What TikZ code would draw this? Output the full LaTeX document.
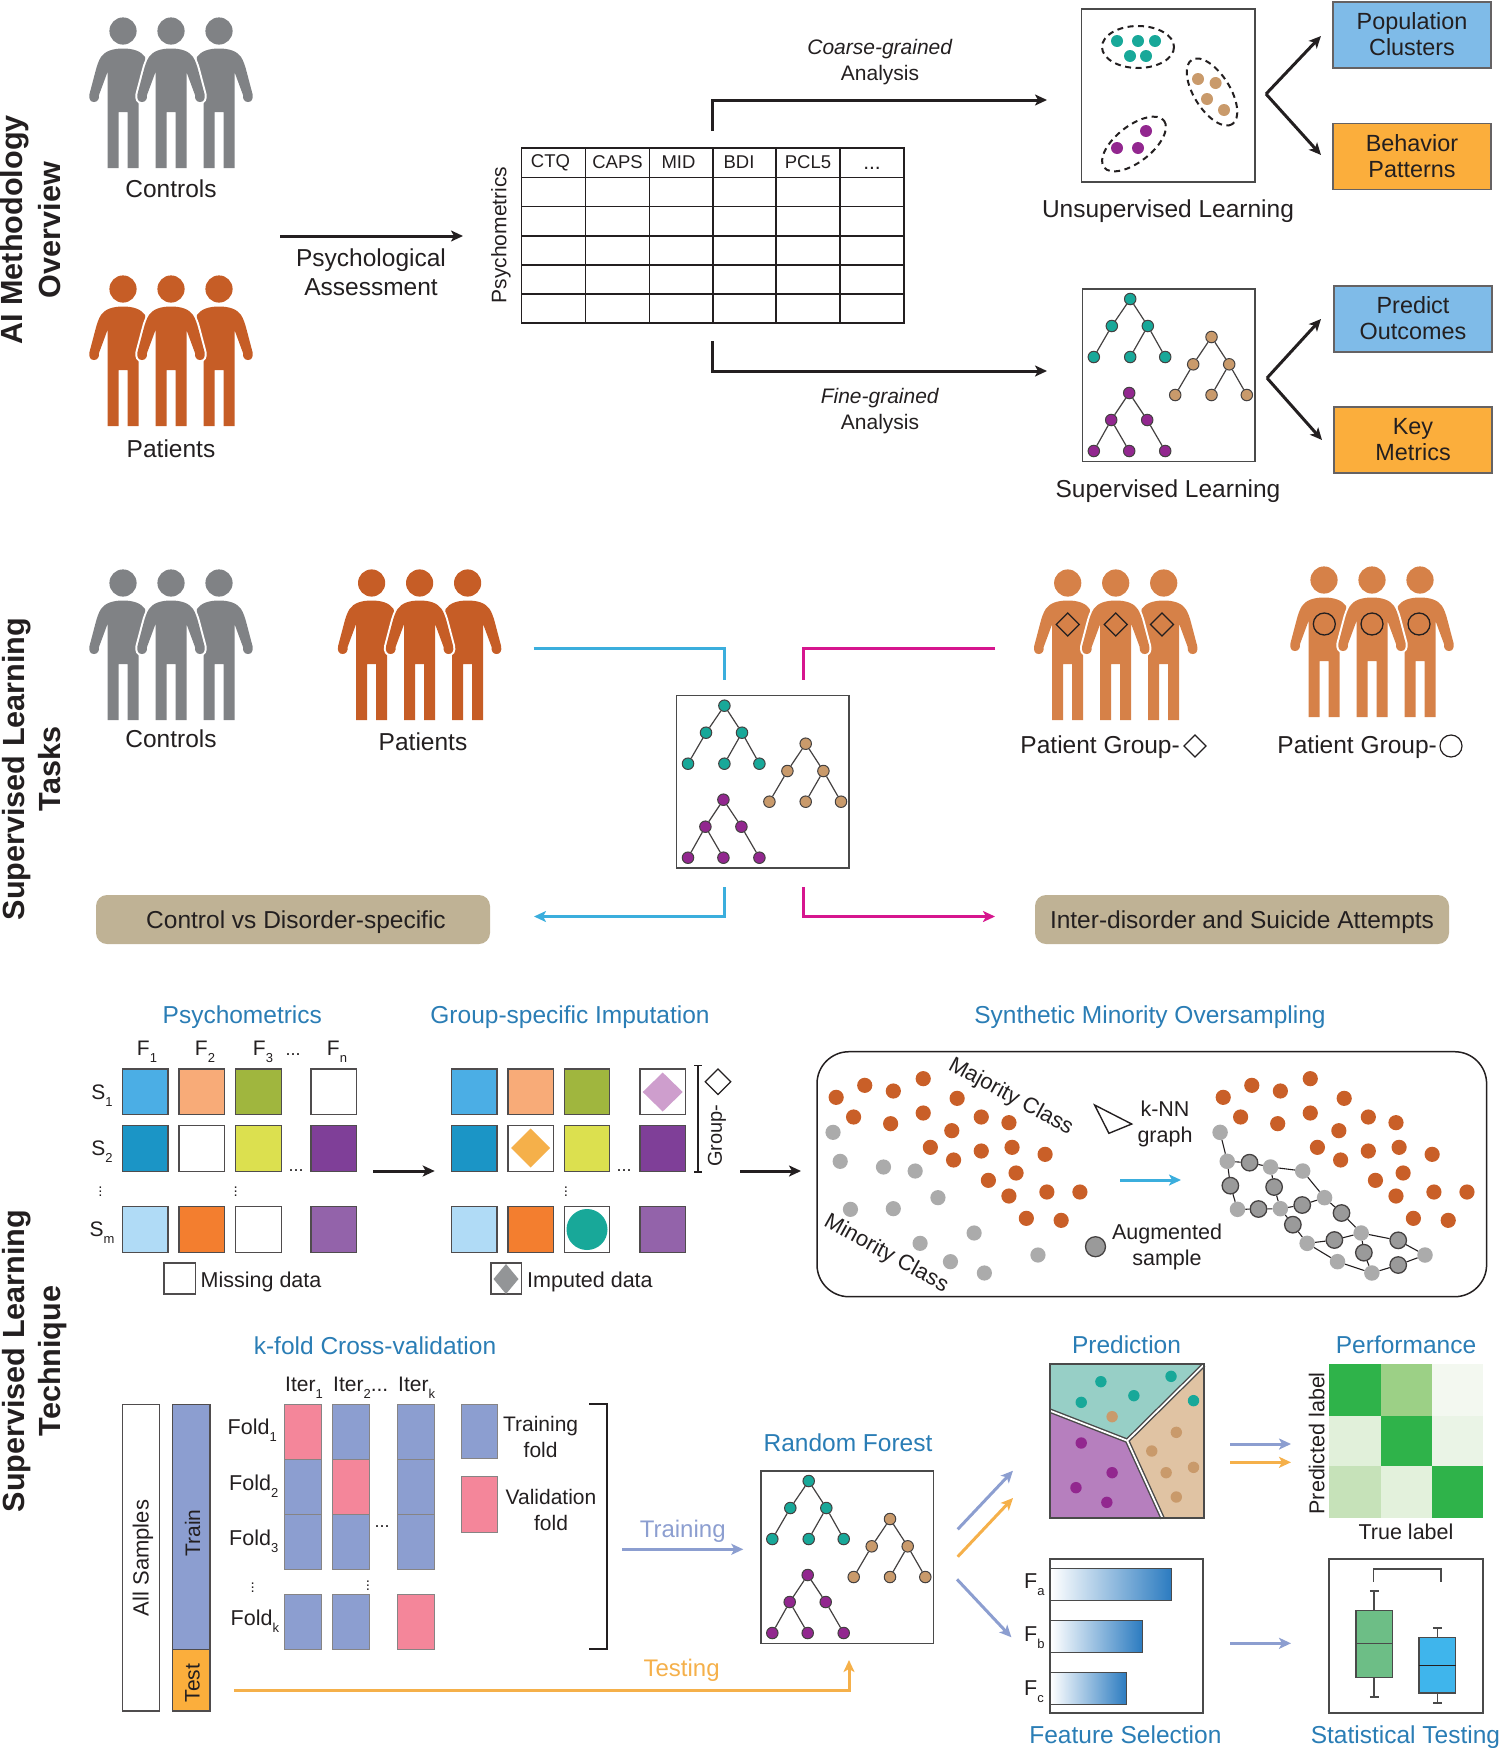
\documentclass[tikz,border=0pt]{standalone}
\usepackage{fontspec}
\setmainfont{Liberation Sans}
\usetikzlibrary{arrows.meta}
\definecolor{ink}{HTML}{231F20}
\definecolor{frameC}{HTML}{4A4A4A}
\definecolor{headC}{HTML}{2A7DB5}
\definecolor{barC}{HTML}{2B7BC0}
\definecolor{pGray}{HTML}{808285}
\definecolor{pOrange}{HTML}{C65D26}
\definecolor{pLight}{HTML}{D68148}
\definecolor{boxBlue}{HTML}{7FBBE8}
\definecolor{boxOrange}{HTML}{FBAE3C}
\definecolor{boxTan}{HTML}{BFB295}
\definecolor{cTeal}{HTML}{18A899}
\definecolor{cTan}{HTML}{C99A6B}
\definecolor{cPurple}{HTML}{92278F}
\definecolor{cCyan}{HTML}{3BAEDD}
\definecolor{cMag}{HTML}{D6168E}
\definecolor{cFold}{HTML}{8C9ED0}
\definecolor{cPink}{HTML}{F4869A}
\definecolor{cTest}{HTML}{F5B04A}
\definecolor{cA}{HTML}{4BAEE5}\definecolor{cB}{HTML}{F8AB78}\definecolor{cC}{HTML}{A0B63E}
\definecolor{cD}{HTML}{1B95C6}\definecolor{cE}{HTML}{DCE04F}\definecolor{cF}{HTML}{7F3F98}
\definecolor{cG}{HTML}{B0DBF6}\definecolor{cH}{HTML}{F37E2F}\definecolor{cI}{HTML}{9363AA}
\definecolor{dotOr}{HTML}{C95F28}
\definecolor{dotGr}{HTML}{ABABAB}
\definecolor{regTeal}{HTML}{97CFC6}
\definecolor{regPur}{HTML}{B67FBE}
\definecolor{regTan}{HTML}{E0C3A3}
\definecolor{boxGreen}{HTML}{6DBE86}
\definecolor{boxCyan}{HTML}{3FB5EC}
\definecolor{h1}{HTML}{2FB34A}\definecolor{h2}{HTML}{9CD086}\definecolor{h3}{HTML}{F3F8F0}
\definecolor{h4}{HTML}{E1F0DA}\definecolor{h5}{HTML}{EAF4E6}\definecolor{h6}{HTML}{C6E2B9}\definecolor{h7}{HTML}{E3F1DC}
\newcommand\fs[2]{\fontsize{#1}{#2}\selectfont}
\newcommand\sbs[1]{\raisebox{-7pt}{\fontsize{13}{13}\selectfont #1}}
\newcommand\sidepath{(0,17.5) .. controls (-10,17.5) and (-18,20) .. (-22,26) .. controls (-24,29) and (-26,34) .. (-27.7,41) -- (-33.5,63) .. controls (-34.5,68) and (-32.5,71) .. (-29,71) .. controls (-25.5,71) and (-23.5,68) .. (-24,64) -- (-15.5,41) -- (-15.5,137) -- (-4.5,137) -- (-4.5,81) -- (4.5,81) -- (4.5,137) -- (15.5,137)}
\newcommand\midpath{\sidepath -- (15.5,41) -- (24,64) .. controls (23.5,68) and (25.5,71) .. (29,71) .. controls (32.5,71) and (34.5,68) .. (33.5,63) -- (27.7,41) .. controls (26,34) and (24,29) .. (22,26) .. controls (18,20) and (10,17.5) .. (0,17.5) -- cycle}
\newcommand\people[3]{%
  \begin{scope}[shift={(#1,#2)}]
    \begin{scope}[shift={(-48,0)}]
      \fill[#3] (0,0) circle (13.6);
      \fill[#3] \sidepath -- (15.5,72) -- (24,40) -- (22,26) .. controls (18,20) and (10,17.5) .. (0,17.5) -- cycle;
    \end{scope}
    \begin{scope}[shift={(48,0)},xscale=-1]
      \fill[#3] (0,0) circle (13.6);
      \fill[#3] \sidepath -- (15.5,72) -- (24,40) -- (22,26) .. controls (18,20) and (10,17.5) .. (0,17.5) -- cycle;
    \end{scope}
    \fill[#3] (0,0) circle (13.6);
    \draw[white,line width=4pt] \midpath;
    \fill[#3] \midpath;
  \end{scope}}
\newcommand\dia[5][ink]{\draw[#1,line width=#5] (#2-#4,#3) -- (#2,#3-#4) -- (#2+#4,#3) -- (#2,#3+#4) -- cycle;}
\newcommand\treeicon[3]{%
  \begin{scope}[shift={(#1,#2)}]
    \draw[boxframe] (0,0) rectangle (172.5,172.5);
    \foreach \nm/\xx/\yy/\cc in {a/47.7/10/cTeal,b/29.3/37/cTeal,c/65.3/37/cTeal,d/11.3/68/cTeal,e/47.7/68/cTeal,f/82.7/68/cTeal,
      g/129/48/cTan,h/110.7/75.3/cTan,i/146.7/75.3/cTan,j/92.7/106/cTan,k/129/106/cTan,l/164.3/106/cTan,
      m/46.7/104/cPurple,n/28.7/131/cPurple,o/64.7/131/cPurple,p/11.3/162/cPurple,q/46.7/162/cPurple,r/82.7/162/cPurple}
      {\node[treenode,fill=\cc] (#3\nm) at (\xx,\yy) {};}
    \foreach \ua/\va in {a/b,a/c,b/d,c/e,c/f,g/h,g/i,h/j,i/k,i/l,m/n,m/o,n/p,n/q,o/r}
      {\draw[treeedge] (#3\ua) -- (#3\va);}
  \end{scope}}
\tikzset{
  txt/.style={inner sep=0pt,text=ink,align=center,font=\fs{24.5}{29}},
  small/.style={inner sep=0pt,text=ink,align=center,font=\fs{21.5}{26}},
  head/.style={inner sep=0pt,text=headC,align=center,font=\fs{24.5}{29}},
  title/.style={inner sep=0pt,text=ink,anchor=base,rotate=90,font=\fs{30.6}{36}\bfseries},
  boxframe/.style={draw=frameC,line width=1.5pt},
  treenode/.style={circle,draw=ink!85,line width=1pt,inner sep=0pt,minimum size=11.5pt},
  treeedge/.style={draw=ink!85,line width=1.2pt},
  tagbox/.style={draw=ink!70,line width=1.1pt,inner sep=0pt,text=ink,align=center,minimum width=158pt,minimum height=66pt,font=\fs{23.4}{26}},
  tanbox/.style={fill=boxTan,rounded corners=11pt,inner sep=0pt,text=ink,minimum height=49pt,text height=20pt,text depth=2pt,font=\fs{24.5}{29}},
  cell/.style={draw=ink!80,line width=1.2pt},
  fold/.style={draw=ink!55,line width=1pt},
  blackarrow/.style={draw=ink,line width=3pt,-{Stealth[length=12pt,width=11pt,inset=3pt]}},
  thinline/.style={draw=ink,line width=1.5pt},
  colarrow/.style={line width=3pt,-{Stealth[length=12pt,width=11pt,inset=3pt]}},
  colline/.style={line width=3pt},
  aug/.style={circle,draw=ink!85,fill=dotGr!90!black,line width=1.3pt,inner sep=0pt,minimum size=16.5pt},
  plain/.style={circle,fill=dotGr,inner sep=0pt,minimum size=15.5pt},
  graphedge/.style={draw=ink,line width=1.1pt},
  dashedring/.style={ink,line width=2pt,dash pattern=on 6pt off 4.5pt},
}
\begin{document}
\begin{tikzpicture}[x=1pt,y=-1pt]
\useasboundingbox (0,0) rectangle (1500,1748);
% ---------- titles
\node[title] (t1a) at (23,230) {AI Methodology};
\node[title] (t1b) at (60,230) {Overview};
\node[title] (t2a) at (24,769) {Supervised Learning};
\node[title] (t2b) at (60,769) {Tasks};
\node[title] (t3a) at (24,1361) {Supervised Learning};
\node[title] (t3b) at (60,1361) {Technique};
% ---------- people
\people{171}{31}{pGray}
\people{171}{289}{pOrange}
\people{171}{583}{pGray}
\people{419.6}{583}{pOrange}
\people{1115.7}{583}{pLight}
\people{1372}{580}{pLight}
\node[txt] (lc1) at (171,189) {Controls};
\node[txt] (lp1) at (171,449) {Patients};
\node[txt] (lc2) at (171,739) {Controls};
\node[txt] (lp2) at (423,742) {Patients};
\node[txt,anchor=east] (lg1) at (1180,747) {Patient Group-};
\node[txt,anchor=east] (lg2) at (1437,747) {Patient Group-};
\dia[ink]{1195}{746}{11}{1.2pt}
\draw[ink,line width=1.2pt] (1451,746) circle (11);
\foreach \xx in {1067.7,1115.7,1162}{\dia[ink]{\xx}{624.5}{11.5}{1.3pt}}
\foreach \xx in {1324.3,1372,1419}{\draw[ink,line width=1.3pt] (\xx,624) circle (11);}
% ---------- table
\coordinate (aS) at (280,236); \coordinate (aE) at (463,236);
\draw[blackarrow] (aS) -- (aE);
\node[txt] (psy) at (371,272.5) {Psychological\\Assessment};
\node[inner sep=0pt,text=ink,rotate=90,font=\fs{21}{25}] (psyv) at (501,235) {Psychometrics};
\node[draw=ink,line width=1.2pt,minimum width=382.5pt,minimum height=175pt,inner sep=0pt] (tbl) at (712.75,235.5) {};
\foreach \yy in {177.5,206.5,236,265,294}{\draw[ink,line width=1.2pt] (521.5,\yy) -- (904,\yy);}
\foreach \xx in {585.7,649.7,713,776,840}{\draw[ink,line width=1.2pt] (\xx,148) -- (\xx,323);}
\foreach \nm/\xx/\lab in {h1/550.5/CTQ,h2/617.5/CAPS,h3/678.5/MID,h4/739/BDI,h5/808/PCL5}
  {\node[inner sep=0pt,text=ink,font=\fs{18.5}{22}] (\nm) at (\xx,162.5) {\lab};}
\node[inner sep=0pt,text=ink,font=\fs{21}{25},anchor=base] (h6) at (872,169) {...};
\coordinate (up0) at (712,131); \coordinate (up1) at (712,100); \coordinate (up2) at (1047,100);
\draw[blackarrow] (up0) -- (up1) -- (up2);
\coordinate (dn0) at (712,341); \coordinate (dn1) at (712,371); \coordinate (dn2) at (1047,371);
\draw[blackarrow] (dn0) -- (dn1) -- (dn2);
\node[inner sep=0pt,text=ink,align=center,font=\fs{21}{26}] (coarse) at (880,62) {\textit{Coarse-grained}\\Analysis};
\node[inner sep=0pt,text=ink,align=center,font=\fs{21}{26}] (fine) at (880,411.5) {\textit{Fine-grained}\\Analysis};
% ---------- unsupervised frame
\draw[boxframe] (1081.6,9) rectangle (1255,182);
\foreach \X/\Y in {1117/41,1138/41,1155/41,1130/56,1146/56}{\fill[cTeal] (\X,\Y) circle (6);}
\foreach \X/\Y in {1198/79,1215.6/83,1207/99,1224/110}{\fill[cTan] (\X,\Y) circle (6);}
\foreach \X/\Y in {1146/131,1117/148,1138/148}{\fill[cPurple] (\X,\Y) circle (6);}
\draw[dashedring] (1138,47) ellipse [x radius=36,y radius=21];
\draw[dashedring,rotate around={-58:(1212,92)}] (1212,92) ellipse [x radius=38,y radius=18];
\draw[dashedring,rotate around={38:(1134,144)}] (1134,144) ellipse [x radius=38,y radius=18];
\node[txt] (lu) at (1168,211) {Unsupervised Learning};
\treeicon{1082.5}{289}{s}
\node[txt] (ls) at (1168,491) {Supervised Learning};
% ---------- tag boxes
\node[tagbox,fill=boxBlue] (b1) at (1412,35) {\raisebox{2pt}{Population}\\\raisebox{2pt}{Clusters}};
\node[tagbox,fill=boxOrange] (b2) at (1412,156.5) {\raisebox{1pt}{Behavior}\\\raisebox{1pt}{Patterns}};
\node[tagbox,fill=boxBlue] (b3) at (1413,319) {\raisebox{1pt}{Predict}\\\raisebox{1pt}{Outcomes}};
\node[tagbox,fill=boxOrange] (b4) at (1413,440) {Key\\Metrics};
\coordinate (v1) at (1266,94); \coordinate (v1a) at (1321,36); \coordinate (v1b) at (1321,155);
\draw[blackarrow] (v1) -- (v1a); \draw[blackarrow] (v1) -- (v1b);
\coordinate (v2) at (1267,378); \coordinate (v2a) at (1321,319); \coordinate (v2b) at (1322,440);
\draw[blackarrow] (v2) -- (v2a); \draw[blackarrow] (v2) -- (v2b);
% ---------- supervised tasks
\treeicon{676.7}{695.7}{m}
\coordinate (c0) at (533.5,648.7); \coordinate (c1) at (724,648.7); \coordinate (c2) at (724,680);
\draw[cCyan,colline] (c0) -- (c1) -- (c2);
\coordinate (g0) at (995,648.7); \coordinate (g1) at (803.5,648.7); \coordinate (g2) at (803.5,680);
\draw[cMag,colline] (g0) -- (g1) -- (g2);
\coordinate (c3) at (724,887); \coordinate (c4) at (724,916.5); \coordinate (c5) at (534,916.5);
\draw[cCyan,colarrow] (c3) -- (c4) -- (c5);
\coordinate (g3) at (803.5,887); \coordinate (g4) at (803.5,916.5); \coordinate (g5) at (995,916.5);
\draw[cMag,colarrow] (g3) -- (g4) -- (g5);
\node[tanbox,minimum width=394pt] (tb1) at (293,919.5) {\hspace*{6pt}Control vs Disorder-specific};
\node[tanbox,minimum width=414pt] (tb2) at (1242,919.5) {Inter-disorder and Suicide Attempts};
% ---------- psychometrics matrix
\node[head] (hp) at (242.3,1017) {Psychometrics};
\node[head] (hg) at (570,1017) {Group-specific Imputation};
\node[head] (hs) at (1150,1017) {Synthetic Minority Oversampling};
\foreach \xx/\cc in {122.4/cA,179/cB,235.7/cC,311/white,451.5/cA,508/cB,564.3/cC,640/white}
  {\draw[cell,fill=\cc] (\xx,1069) rectangle ++(45.5,45.7);}
\foreach \xx/\cc in {122.4/cD,179/white,235.7/cE,311/cF,451.5/cD,508/white,564.3/cE,640/cF}
  {\draw[cell,fill=\cc] (\xx,1125.7) rectangle ++(45.5,45.5);}
\foreach \xx/\cc in {122.4/cG,179/cH,235.7/white,311/cI,451.5/cG,508/cH,564.3/white,640/cI}
  {\draw[cell,fill=\cc] (\xx,1206.7) rectangle ++(45.5,45.6);}
\fill[cPurple!45!white] (662.7,1072.5) -- (682.7,1092) -- (662.7,1111.5) -- (642.7,1092) -- cycle;
\fill[cTest] (530.7,1128.5) -- (550.2,1148) -- (530.7,1167.5) -- (511.2,1148) -- cycle;
\fill[cTeal] (587,1229.5) circle (20.5);
\foreach \nm/\xx/\sbx in {f1/147/1,f2/205/2,f3/263/3,f4/337/n}
  {\node[inner sep=0pt,text=ink,font=\fs{21}{25}] (\nm) at (\xx,1052) {F\sbs{\sbx}};}
\node[inner sep=0pt,text=ink,font=\fs{18}{22},anchor=base] (fd) at (293,1055) {...};
\foreach \nm/\yy/\sbx in {s1/1095.5/1,s2/1151.5/2,s3/1233/m}
  {\node[inner sep=0pt,text=ink,font=\fs{21}{25}] (\nm) at (102,\yy) {S\sbs{\sbx}};}
\foreach \nm/\xx in {vd1/100.5,vd2/235.7,vd3/566}
  {\node[inner sep=0pt,text=ink,font=\fs{15}{18}] (\nm) at (\xx,1189) {$\vdots$};}
\node[inner sep=0pt,text=ink,font=\fs{18}{22},anchor=base] (dd1) at (296,1171) {...};
\node[inner sep=0pt,text=ink,font=\fs{18}{22},anchor=base] (dd2) at (624,1171) {...};
\draw[cell] (164,1263) rectangle (195.4,1294);
\node[small,anchor=west] (lm) at (200.5,1282) {Missing data};
\draw[cell] (491,1263) rectangle (521.5,1294);
\fill[pGray!85] (506,1264) -- (518.5,1279) -- (506,1294) -- (493.5,1279) -- cycle;
\node[small,anchor=west] (li) at (527,1282) {Imputed data};
\draw[thinline] (694,1065.7) -- (702,1065.7) (698,1065.7) -- (698,1172) (694,1172) -- (702,1172);
\node[inner sep=0pt,text=ink,rotate=90,font=\fs{20}{24}] (lgr) at (717,1135.5) {Group-};
\dia[ink]{718}{1081.7}{12.7}{1.2pt}
\coordinate (x1) at (373,1171); \coordinate (x2) at (434.7,1171);
\draw[blackarrow] (x1) -- (x2);
\coordinate (x3) at (740,1171); \coordinate (x4) at (801,1171);
\draw[blackarrow] (x3) -- (x4);
% ---------- SMOTE
\draw[ink,line width=1.5pt,rounded corners=32pt] (817,1051.7) rectangle (1486.6,1296.7);
\foreach \X/\Y in {81/232,145/196,209/213,276/176,352/235,120/291,203/311,276/279,406/291,468/308,340/332,292/382,344/420,406/393,475/382,549/403,484/459,422/481,468/528,553/516,627/516,507/595,585/601,
 948/232,1012/196,1076/213,1143/176,1219/235,987/291,1070/311,1143/279,1273/291,1335/308,1207/332,1159/382,1211/420,1273/393,1342/382,1416/403,1351/459,1289/481,1335/528,1420/516,1494/516,1374/595,1452/601}
  {\fill[dotOr] ({800+\X/2.24},{1020+\Y/3}) circle (7.6);}
\foreach \X/\Y in {74/337,90/424,187/441,258/453,309/533,113/568,209/566,390/639,269/670,337/725,533/705,413/759}
  {\fill[dotGr] ({800+\X/2.24},{1020+\Y/3}) circle (7.6);}
\foreach \nm/\X/\Y in {p1/941/337,p2/957/424,p3/1054/441,p4/1126/453,p5/1175/533,p6/980/568,p7/1076/566,p8/1257/639,p9/1136/670,p10/1204/725,p11/1400/705,p12/1281/759}
  {\node[plain] (\nm) at ({800+\X/2.24},{1020+\Y/3}) {};}
\foreach \nm/\X/\Y in {a1/1007/428,a2/964/497,a3/1062/501,a4/1027/567,a5/1125/555,a6/1213/579,a7/1104/614,a8/1197/660,a9/1263/698,a10/1340/661,a11/1340/735}
  {\node[aug] (\nm) at ({800+\X/2.24},{1020+\Y/3}) {};}
\foreach \ua/\va in {p1/p2,p2/a1,a1/p3,p3/p4,p4/p5,p5/a6,a6/p8,p8/a10,a10/p11,p11/a11,a11/p12,p12/p10,p10/p9,p9/a8,a8/p8,p8/a9,a9/p12,p2/a2,a2/p6,p6/a4,a4/p7,p7/a5,a5/p5,p3/a3,a3/p7,p7/a7,a7/p9}
  {\draw[graphedge] (\ua) -- (\va);}
\node[inner sep=0pt,text=ink,rotate=-28.5,font=\fs{22}{26}] (maj) at (1010.7,1097) {Majority Class};
\node[inner sep=0pt,text=ink,rotate=-29,font=\fs{22}{26}] (mnr) at (886,1254) {Minority Class};
\draw[ink,line width=1.4pt] (1094.6,1105) -- (1131.7,1124) -- (1108.9,1133.3) -- cycle;
\node[small] (knn) at (1165,1123.5) {k-NN\\graph};
\coordinate (b0) at (1120,1180); \coordinate (b9) at (1181,1180);
\draw[cCyan,colarrow] (b0) -- (b9);
\node[aug,minimum size=20pt] (augl) at (1095.5,1246.7) {};
\node[small] (laug) at (1167,1246.5) {Augmented\\sample};
% ---------- cross validation
\node[head] (hk) at (375,1346) {k-fold Cross-validation};
\draw[cell,fill=white] (122.8,1404.3) rectangle (159.6,1711);
\node[inner sep=0pt,text=ink,rotate=90,font=\fs{22}{26}] (las) at (143,1558) {All Samples};
\draw[cell,fill=cFold] (172.6,1404.3) rectangle (210,1649.3);
\draw[cell,fill=boxOrange] (172.6,1649.3) rectangle (210,1711);
\node[inner sep=0pt,text=ink,rotate=90,font=\fs{21}{25}] (ltr) at (192.5,1533) {Train};
\node[inner sep=0pt,text=ink,rotate=90,font=\fs{21}{25}] (lte) at (192.5,1683) {Test};
\foreach \xx/\ca/\cb/\cc/\ck in {284.3/cPink/cFold/cFold/cFold,332.5/cFold/cPink/cFold/cFold,397/cFold/cFold/cFold/cPink}{
  \draw[fold,fill=\ca] (\xx,1404) rectangle ++(37,55);
  \draw[fold,fill=\cb] (\xx,1459) rectangle ++(37,55);
  \draw[fold,fill=\cc] (\xx,1514) rectangle ++(37,55.3);
  \draw[fold,fill=\ck] (\xx,1594.7) rectangle ++(37,55);
}
\node[small,anchor=west,font=\fs{21}{25}] (it1) at (285,1388) {Iter\sbs{1}};
\node[small,anchor=west,font=\fs{21}{25}] (it2) at (333,1388) {Iter\sbs{2}...};
\node[small,anchor=west,font=\fs{21}{25}] (it3) at (398,1388) {Iter\sbs{k}};
\node[small,anchor=west,font=\fs{21.5}{25}] (fo1) at (227.5,1430.5) {Fold\sbs{1}};
\node[small,anchor=west,font=\fs{21.5}{25}] (fo2) at (229,1486) {Fold\sbs{2}};
\node[small,anchor=west,font=\fs{21.5}{25}] (fo3) at (229,1541) {Fold\sbs{3}};
\node[small,anchor=west,font=\fs{21.5}{25}] (fo4) at (230.5,1621.5) {Fold\sbs{k}};
\node[inner sep=0pt,text=ink,font=\fs{15}{18}] (vd4) at (252.8,1585) {$\vdots$};
\node[inner sep=0pt,text=ink,font=\fs{15}{18}] (vd5) at (368,1583) {$\vdots$};
\node[inner sep=0pt,text=ink,font=\fs{18}{22},anchor=base] (dd3) at (382,1527) {...};
\draw[fold,fill=cFold] (461,1404) rectangle (497.3,1458.7);
\draw[fold,fill=cPink] (461,1476.7) rectangle (497.3,1532);
\node[small,font=\fs{21}{25.5}] (ltf) at (540.6,1437) {Training\\fold};
\node[small,font=\fs{21}{25.5}] (lvf) at (551,1510) {Validation\\fold};
\draw[thinline] (589,1404) -- (606.8,1404) -- (606.8,1649) -- (589,1649);
\coordinate (tr0) at (622,1549.3); \coordinate (tr1) at (743.3,1549.3);
\draw[cFold,colarrow] (tr0) -- (tr1);
\node[inner sep=0pt,text=cFold,font=\fs{24}{28}] (ltra) at (682.7,1531) {Training};
\coordinate (te0) at (233.9,1690); \coordinate (te1) at (849,1690); \coordinate (te2) at (849,1660);
\draw[cTest,colarrow] (te0) -- (te1) -- (te2);
\node[inner sep=0pt,text=cTest,font=\fs{24}{28}] (ltes) at (681.6,1670) {Testing};
\node[head] (hrf) at (848,1442.7) {Random Forest};
\treeicon{761}{1471}{r}
% ---------- arrows to outputs
\coordinate (d1a) at (957.7,1529.3); \coordinate (d1b) at (1013,1470.7);
\draw[cFold,colarrow] (d1a) -- (d1b);
\coordinate (d2a) at (957.7,1556.7); \coordinate (d2b) at (1013,1498);
\draw[cTest,colarrow] (d2a) -- (d2b);
\coordinate (d3a) at (957,1579.3); \coordinate (d3b) at (1011.4,1637.3);
\draw[cFold,colarrow] (d3a) -- (d3b);
\coordinate (e1a) at (1230,1444); \coordinate (e1b) at (1291,1444);
\draw[cFold,colarrow] (e1a) -- (e1b);
\coordinate (e2a) at (1230,1462.3); \coordinate (e2b) at (1291,1462.3);
\draw[cTest,colarrow] (e2a) -- (e2b);
\coordinate (e3a) at (1230,1643.3); \coordinate (e3b) at (1291,1643.3);
\draw[cFold,colarrow] (e3a) -- (e3b);
% ---------- prediction
\node[head] (hpr) at (1126.5,1345) {Prediction};
\node[head] (hpe) at (1406,1345) {Performance};
\fill[regTeal] (1050,1364.3) -- (1203.7,1364.3) -- (1127.2,1440.7) -- (1050,1410.7) -- cycle;
\fill[regPur] (1050,1410.7) -- (1127.2,1440.7) -- (1162.6,1518.3) -- (1050,1518.3) -- cycle;
\fill[regTan] (1203.7,1364.3) -- (1203.7,1518.3) -- (1162.6,1518.3) -- (1127.2,1440.7) -- cycle;
\draw[frameC,line width=4.6pt] (1050,1410.7) -- (1127.2,1440.7) -- (1203.7,1365) (1127.2,1440.7) -- (1162.6,1518.3);
\draw[white,line width=1.8pt] (1050,1410.7) -- (1127.2,1440.7) -- (1203.7,1365) (1127.2,1440.7) -- (1162.6,1518.3);
\draw[frameC,line width=2pt] (1050,1364.3) rectangle (1203.7,1518.3);
\foreach \X/\Y in {430/185,374/247,524/227,630/169,694/242}{\fill[cTeal] ({950+\X/2.85},{1320+\Y/3}) circle (5.7);}
\foreach \X/\Y in {462/290,645/337,575/393,616/458,694/442,645/531}{\fill[cTan] ({950+\X/2.85},{1320+\Y/3}) circle (5.7);}
\foreach \X/\Y in {374/369,462/458,359/503,447/547}{\fill[cPurple] ({950+\X/2.85},{1320+\Y/3}) circle (5.7);}
% ---------- heatmap
\fill[h1] (1329.3,1364.3) rectangle (1380.9,1415.7);
\fill[h2] (1380.9,1364.3) rectangle (1432,1415.7);
\fill[h3] (1432,1364.3) rectangle (1483.3,1415.7);
\fill[h4] (1329.3,1415.7) rectangle (1380.9,1466.3);
\fill[h1] (1380.9,1415.7) rectangle (1432,1466.3);
\fill[h5] (1432,1415.7) rectangle (1483.3,1466.3);
\fill[h6] (1329.3,1466.3) rectangle (1380.9,1518.3);
\fill[h7] (1380.9,1466.3) rectangle (1432,1518.3);
\fill[h1] (1432,1466.3) rectangle (1483.3,1518.3);
\node[inner sep=0pt,text=ink,rotate=90,font=\fs{21.5}{25}] (lpl) at (1316.7,1443.3) {Predicted label};
\node[small] (ltl) at (1406,1531.7) {True label};
% ---------- feature selection
\draw[frameC,line width=2pt] (1049.6,1559.3) rectangle (1203,1713.3);
\foreach \yy/\xx in {1568/1171.8,1620/1142.6,1672/1126.8}
  {\draw[draw=frameC,line width=0.9pt,left color=white,right color=barC] (1050.7,\yy) rectangle (\xx,\yy+32.7);}
\node[small,anchor=west] (fa) at (1024,1585) {F\sbs{a}};
\node[small,anchor=west] (fb) at (1024,1638) {F\sbs{b}};
\node[small,anchor=west] (fc) at (1024,1692) {F\sbs{c}};
\node[head] (hfs) at (1125.4,1735) {Feature Selection};
% ---------- statistical testing
\draw[frameC,line width=2pt] (1329.3,1559.3) rectangle (1483,1713.3);
\draw[frameC,line width=1.5pt] (1373.5,1581.7) -- (1373.5,1569) -- (1441.2,1569) -- (1441.2,1581.7);
\draw[frameC,line width=1.5pt] (1374.2,1591) -- (1374.2,1697) (1369.8,1591) -- (1378.6,1591) (1369.8,1697) -- (1378.6,1697);
\draw[frameC,line width=1.2pt,fill=boxGreen] (1356,1610.3) rectangle (1392.5,1677.7);
\draw[frameC,line width=1.2pt] (1356,1643.7) -- (1392.5,1643.7);
\draw[frameC,line width=1.5pt] (1437.4,1628) -- (1437.4,1703) (1433,1628) -- (1441.8,1628) (1433,1703) -- (1441.8,1703);
\draw[frameC,line width=1.2pt,fill=boxCyan] (1419,1637.7) rectangle (1455.6,1693);
\draw[ink,line width=1.2pt] (1419,1665.3) -- (1455.6,1665.3);
\node[head] (hst) at (1405.4,1737) {Statistical Testing};
\end{tikzpicture}
\end{document}
